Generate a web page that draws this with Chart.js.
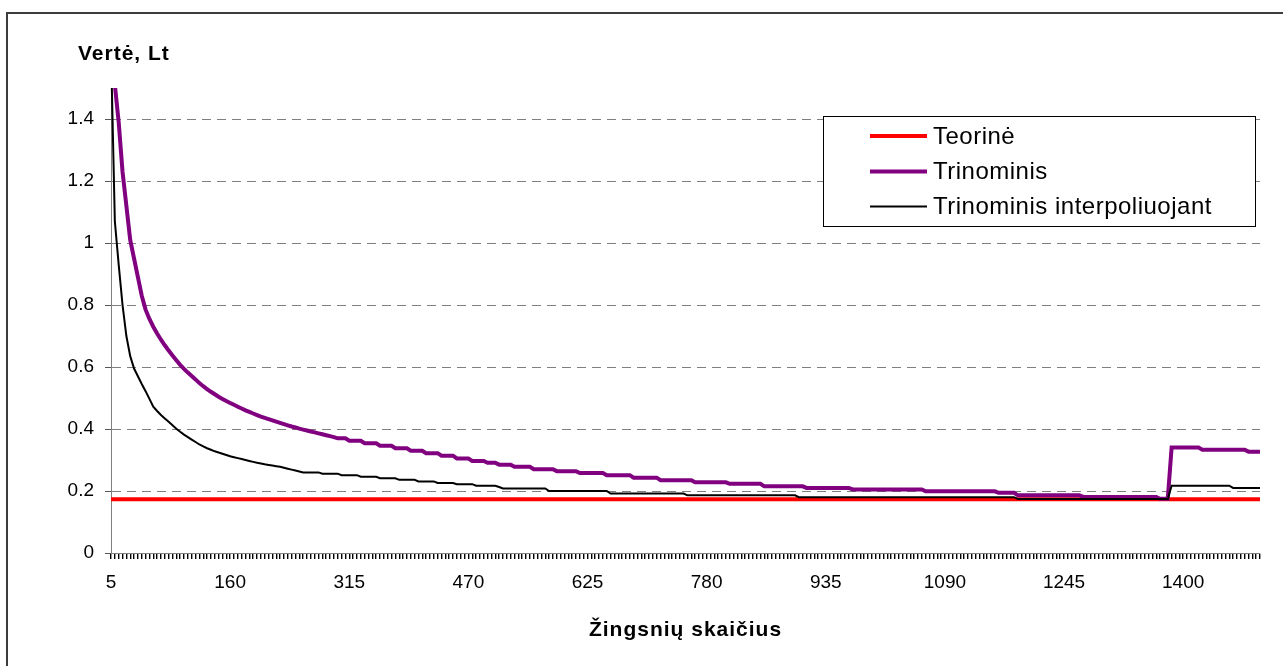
<!DOCTYPE html>
<html>
<head>
<meta charset="utf-8">
<title>Vertė pagal žingsnių skaičių</title>
<script src="https://cdn.jsdelivr.net/npm/chart.js@4.4.0/dist/chart.umd.min.js"></script>
<style>
    html, body { margin: 0; padding: 0; background: #fff; overflow: hidden; }
    #frame { position: absolute; left: 6px; top: 12px; width: 1400px; height: 800px; border: 2px solid #3c3c3c; }
    #chart { position: absolute; left: 0; top: 0; }
</style>
</head>
<body>
<div id="frame"></div>
<canvas id="chart" width="1283" height="666"></canvas>
<script>
// Step counts 5, 10, ..., 1500
const steps = Array.from({ length: 300 }, (_, i) => 5 + 5 * i);
const labelEvery = 31;

// Theoretical (closed form) value
const teorine = 0.173;

// Trinomial tree value
const trinominis = [
    2.30, 1.51, 1.39, 1.23, 1.12, 1.01, 0.95, 0.89, 0.83, 0.785,
    0.755, 0.73, 0.708, 0.688, 0.67, 0.653, 0.637, 0.622, 0.607, 0.594,
    0.582, 0.571, 0.56, 0.548, 0.538, 0.529, 0.52, 0.512, 0.504, 0.497,
    0.49, 0.484, 0.478, 0.472, 0.466, 0.46, 0.455, 0.45, 0.445, 0.44,
    0.436, 0.432, 0.428, 0.424, 0.42, 0.416, 0.412, 0.408, 0.405, 0.401,
    0.398, 0.395, 0.392, 0.389, 0.386, 0.383, 0.38, 0.377, 0.374, 0.370,
    0.370, 0.370, 0.362, 0.362, 0.362, 0.362, 0.354, 0.354, 0.354, 0.354,
    0.346, 0.346, 0.346, 0.346, 0.338, 0.338, 0.338, 0.338, 0.330, 0.330,
    0.330, 0.330, 0.322, 0.322, 0.322, 0.322, 0.314, 0.314, 0.314, 0.314,
    0.305, 0.305, 0.305, 0.305, 0.297, 0.297, 0.297, 0.297, 0.291, 0.291,
    0.291, 0.285, 0.285, 0.285, 0.285, 0.278, 0.278, 0.278, 0.278, 0.278,
    0.270, 0.270, 0.270, 0.270, 0.270, 0.270, 0.264, 0.264, 0.264, 0.264,
    0.264, 0.264, 0.258, 0.258, 0.258, 0.258, 0.258, 0.258, 0.258, 0.251,
    0.251, 0.251, 0.251, 0.251, 0.251, 0.251, 0.243, 0.243, 0.243, 0.243,
    0.243, 0.243, 0.243, 0.235, 0.235, 0.235, 0.235, 0.235, 0.235, 0.235,
    0.235, 0.235, 0.228, 0.228, 0.228, 0.228, 0.228, 0.228, 0.228, 0.228,
    0.228, 0.223, 0.223, 0.223, 0.223, 0.223, 0.223, 0.223, 0.223, 0.223,
    0.215, 0.215, 0.215, 0.215, 0.215, 0.215, 0.215, 0.215, 0.215, 0.215,
    0.215, 0.210, 0.210, 0.210, 0.210, 0.210, 0.210, 0.210, 0.210, 0.210,
    0.210, 0.210, 0.210, 0.205, 0.205, 0.205, 0.205, 0.205, 0.205, 0.205,
    0.205, 0.205, 0.205, 0.205, 0.205, 0.205, 0.205, 0.205, 0.205, 0.205,
    0.205, 0.205, 0.199, 0.199, 0.199, 0.199, 0.199, 0.199, 0.199, 0.199,
    0.199, 0.199, 0.199, 0.199, 0.199, 0.199, 0.199, 0.199, 0.199, 0.199,
    0.199, 0.194, 0.194, 0.194, 0.194, 0.194, 0.186, 0.186, 0.186, 0.186,
    0.186, 0.186, 0.186, 0.186, 0.186, 0.186, 0.186, 0.186, 0.186, 0.186,
    0.186, 0.186, 0.186, 0.181, 0.181, 0.181, 0.181, 0.181, 0.181, 0.181,
    0.181, 0.181, 0.181, 0.181, 0.181, 0.181, 0.181, 0.181, 0.181, 0.181,
    0.181, 0.181, 0.181, 0.175, 0.175, 0.175, 0.340, 0.340, 0.340, 0.340,
    0.340, 0.340, 0.340, 0.340, 0.333, 0.333, 0.333, 0.333, 0.333, 0.333,
    0.333, 0.333, 0.333, 0.333, 0.333, 0.333, 0.327, 0.327, 0.327, 0.327
];

// Trinomial tree value with interpolation
const interpoliuojant = [
    1.62, 1.07, 0.93, 0.80, 0.70, 0.635, 0.595, 0.57, 0.545, 0.522,
    0.497, 0.472, 0.458, 0.445, 0.434, 0.423, 0.412, 0.401, 0.391, 0.382,
    0.374, 0.366, 0.358, 0.35, 0.344, 0.338, 0.333, 0.328, 0.324, 0.32,
    0.316, 0.312, 0.309, 0.306, 0.303, 0.3, 0.297, 0.294, 0.291, 0.289,
    0.286, 0.284, 0.282, 0.28, 0.278, 0.275, 0.272, 0.269, 0.266, 0.263,
    0.260, 0.260, 0.260, 0.260, 0.260, 0.256, 0.256, 0.256, 0.256, 0.256,
    0.251, 0.251, 0.251, 0.251, 0.251, 0.246, 0.246, 0.246, 0.246, 0.246,
    0.241, 0.241, 0.241, 0.241, 0.241, 0.236, 0.236, 0.236, 0.236, 0.236,
    0.231, 0.231, 0.231, 0.231, 0.231, 0.226, 0.226, 0.226, 0.226, 0.226,
    0.222, 0.222, 0.222, 0.222, 0.222, 0.217, 0.217, 0.217, 0.217, 0.217,
    0.217, 0.213, 0.208, 0.208, 0.208, 0.208, 0.208, 0.208, 0.208, 0.208,
    0.208, 0.208, 0.208, 0.208, 0.200, 0.200, 0.200, 0.200, 0.200, 0.200,
    0.200, 0.200, 0.200, 0.200, 0.200, 0.200, 0.200, 0.200, 0.200, 0.200,
    0.192, 0.192, 0.192, 0.192, 0.192, 0.192, 0.192, 0.192, 0.192, 0.192,
    0.192, 0.192, 0.192, 0.192, 0.192, 0.192, 0.192, 0.192, 0.192, 0.192,
    0.186, 0.186, 0.186, 0.186, 0.186, 0.186, 0.186, 0.186, 0.186, 0.186,
    0.186, 0.186, 0.186, 0.186, 0.186, 0.186, 0.186, 0.186, 0.186, 0.186,
    0.186, 0.186, 0.186, 0.186, 0.186, 0.186, 0.186, 0.186, 0.186, 0.180,
    0.180, 0.180, 0.180, 0.180, 0.180, 0.180, 0.180, 0.180, 0.180, 0.180,
    0.180, 0.180, 0.180, 0.180, 0.180, 0.180, 0.180, 0.180, 0.180, 0.180,
    0.180, 0.180, 0.180, 0.180, 0.180, 0.180, 0.180, 0.180, 0.180, 0.180,
    0.180, 0.180, 0.180, 0.180, 0.180, 0.180, 0.180, 0.180, 0.180, 0.180,
    0.180, 0.180, 0.180, 0.180, 0.180, 0.180, 0.180, 0.180, 0.180, 0.180,
    0.180, 0.180, 0.180, 0.180, 0.180, 0.180, 0.174, 0.174, 0.174, 0.174,
    0.174, 0.174, 0.174, 0.174, 0.174, 0.174, 0.174, 0.174, 0.174, 0.174,
    0.174, 0.174, 0.174, 0.174, 0.174, 0.174, 0.174, 0.174, 0.174, 0.174,
    0.174, 0.174, 0.174, 0.174, 0.174, 0.174, 0.174, 0.174, 0.174, 0.174,
    0.174, 0.174, 0.174, 0.174, 0.174, 0.174, 0.217, 0.217, 0.217, 0.217,
    0.217, 0.217, 0.217, 0.217, 0.217, 0.217, 0.217, 0.217, 0.217, 0.217,
    0.217, 0.217, 0.210, 0.210, 0.210, 0.210, 0.210, 0.210, 0.210, 0.210
];

const yTitle = 'Vertė, Lt';
const xTitle = 'Žingsnių skaičius';

const FONT = '"Liberation Sans", Arial, sans-serif';
Chart.defaults.font.family = FONT;
Chart.defaults.color = '#000';

// Axis titles and the boxed legend inside the plot
const decorPlugin = {
    id: 'decor',
    afterDraw(chart) {
        const ctx = chart.ctx;
        const area = chart.chartArea;
        ctx.save();
        ctx.fillStyle = '#000';
        ctx.font = 'bold 21px ' + FONT;
        ctx.letterSpacing = '1px';
        ctx.textBaseline = 'alphabetic';
        ctx.textAlign = 'left';
        ctx.fillText(yTitle, 78, 60);
        ctx.textAlign = 'center';
        ctx.fillText(xTitle, (area.left + area.right) / 2, 636);

        // legend
        const box = { x: 823.5, y: 116.5, w: 432, h: 110 };
        ctx.fillStyle = '#fff';
        ctx.fillRect(box.x, box.y, box.w, box.h);
        ctx.strokeStyle = '#000';
        ctx.lineWidth = 1;
        ctx.strokeRect(box.x, box.y, box.w, box.h);

        ctx.font = '24px ' + FONT;
        ctx.letterSpacing = '0.5px';
        ctx.textAlign = 'left';
        ctx.textBaseline = 'middle';
        const rows = [136, 171.5, 206.5];
        chart.data.datasets.forEach((ds, i) => {
            const y = rows[i];
            ctx.strokeStyle = ds.borderColor;
            ctx.lineWidth = ds.borderWidth;
            ctx.beginPath();
            ctx.moveTo(870, y);
            ctx.lineTo(927, y);
            ctx.stroke();
            ctx.fillStyle = '#000';
            ctx.fillText(ds.label, 933, y + 1);
        });
        ctx.restore();
    }
};

new Chart(document.getElementById('chart').getContext('2d'), {
    type: 'line',
    data: {
        labels: steps,
        datasets: [{
            label: 'Teorinė',
            data: [{ x: steps[0], y: teorine }, { x: steps[steps.length - 1], y: teorine }],
            borderColor: '#ff0000',
            borderWidth: 4,
            pointRadius: 0,
            order: 2
        }, {
            label: 'Trinominis',
            data: trinominis,
            borderColor: '#800080',
            borderWidth: 4,
            pointRadius: 0,
            order: 1
        }, {
            label: 'Trinominis interpoliuojant',
            data: interpoliuojant,
            borderColor: '#000000',
            borderWidth: 2,
            pointRadius: 0,
            order: 0
        }]
    },
    options: {
        responsive: false,
        animation: false,
        layout: {
            padding: { left: 0, top: 88, right: 23, bottom: 0 }
        },
        plugins: {
            legend: { display: false },
            tooltip: { enabled: false }
        },
        elements: {
            line: { tension: 0, borderCapStyle: 'butt' }
        },
        scales: {
            x: {
                type: 'category',
                offset: false,
                afterFit(scale) { scale.height = 113; },
                grid: {
                    drawOnChartArea: false,
                    drawTicks: true,
                    tickLength: 6,
                    color: '#000',
                    lineWidth: 1.4,
                    offset: false
                },
                border: { display: true, color: '#7f7f7f', width: 1 },
                ticks: {
                    autoSkip: false,
                    maxRotation: 0,
                    minRotation: 0,
                    padding: 12,
                    font: { size: 19 },
                    color: '#000',
                    callback: function (value, index) {
                        return index % labelEvery === 0 ? this.getLabelForValue(value) : '';
                    }
                }
            },
            y: {
                min: 0,
                max: 1.5,
                afterFit(scale) { scale.width = 111; },
                afterBuildTicks(scale) {
                    scale.ticks = scale.ticks.filter(t => t.value <= 1.4 + 1e-9);
                },
                grid: {
                    color: '#7f7f7f',
                    lineWidth: 1,
                    drawTicks: true,
                    tickLength: 6,
                    tickColor: '#555'
                },
                border: { display: true, color: '#7f7f7f', width: 1, dash: [9, 6] },
                ticks: {
                    stepSize: 0.2,
                    padding: 11,
                    font: { size: 19 },
                    color: '#000',
                    callback: v => String(Math.round(v * 10) / 10)
                }
            }
        }
    },
    plugins: [decorPlugin]
});
</script>
</body>
</html>
